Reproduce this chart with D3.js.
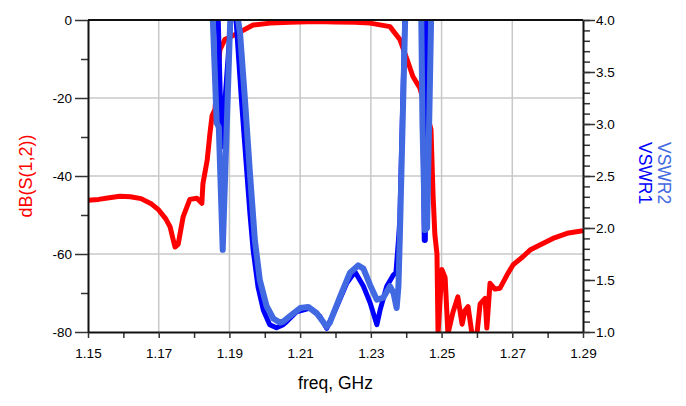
<!DOCTYPE html>
<html>
<head>
<meta charset="utf-8">
<script src="https://cdn.jsdelivr.net/npm/d3@7"></script>
<style>
  body { margin: 0; background: #fff; }
  svg { display: block; font-family: "Liberation Sans", Arial, sans-serif; }
</style>
</head>
<body>
<div id="chart"></div>
<script>
const width = 686;
const height = 406;

// dB(S(1,2)) trace
const s12Freq = [1.150, 1.153, 1.156, 1.159, 1.162, 1.165, 1.168, 1.170, 1.172, 1.1732, 1.1746, 1.1755,
  1.1769, 1.1788, 1.1808, 1.1822, 1.1825, 1.1837, 1.1845, 1.1851, 1.1859, 1.1865, 1.1873, 1.1887,
  1.1921, 1.1967, 1.2015, 1.2071, 1.2145, 1.2200, 1.2255, 1.2298, 1.2354, 1.2382, 1.2402, 1.2419,
  1.2439, 1.2470, 1.2476, 1.2481, 1.2487, 1.2490, 1.2501, 1.2510, 1.2518, 1.2532, 1.2546, 1.2558,
  1.2566, 1.2575, 1.2586, 1.2600, 1.2609, 1.2623, 1.2628, 1.2637, 1.2651, 1.2665, 1.2685, 1.2702,
  1.2730, 1.2750, 1.2778, 1.2815, 1.2855, 1.2900];
const s12Db = [-46.2, -46.0, -45.6, -45.2, -45.3, -45.8, -47.2, -48.7, -51.0, -53.0, -58.2, -57.5,
  -50.5, -46.0, -45.7, -47.0, -42.0, -36.0, -29.0, -24.5, -23.0, -16.0, -7.7, -5.0,
  -3.5, -1.3, -0.8, -0.6, -0.4, -0.5, -0.6, -0.8, -1.7, -5.0, -10.0, -14.5,
  -17.5, -28.0, -45.0, -55.0, -60.0, -80.5, -64.0, -66.0, -80.5, -75.0, -71.0, -78.0,
  -74.5, -73.5, -80.5, -80.5, -72.8, -71.4, -79.0, -67.5, -69.0, -68.8, -65.4, -62.8,
  -60.7, -59.0, -57.7, -56.0, -54.7, -54.0];

// VSWR1 (dark blue)
const vswr1Freq = [1.1860, 1.1866, 1.1878, 1.1906, 1.1912, 1.1920, 1.1934, 1.1948, 1.1958, 1.1967,
  1.1981, 1.1996, 1.2014, 1.2033, 1.2052, 1.2062, 1.2090, 1.2128, 1.2156, 1.2175, 1.2203, 1.2232,
  1.2255, 1.2279, 1.2298, 1.2317, 1.2326, 1.2345, 1.2364, 1.2371, 1.2378, 1.2382, 1.2396, 1.2404,
  1.2438, 1.2444, 1.2451, 1.2454, 1.2460, 1.2468];
const vswr1 = [5.0, 4.3, 2.78, 4.1, 4.3, 3.94, 3.23, 2.59, 2.14, 1.79,
  1.43, 1.21, 1.07, 1.04, 1.07, 1.10, 1.195, 1.23, 1.15, 1.035, 1.24, 1.47,
  1.58, 1.44, 1.28, 1.07, 1.21, 1.44, 1.55, 1.57, 1.88, 2.08, 4.0, 4.6,
  4.6, 4.3, 1.88, 1.88, 4.3, 5.0];

// VSWR2 (light blue)
const vswr2Freq = [1.1840, 1.1852, 1.1864, 1.1870, 1.1881, 1.1902, 1.1909, 1.1916, 1.1930, 1.1944,
  1.1958, 1.1972, 1.1986, 1.2005, 1.2024, 1.2043, 1.2052, 1.2081, 1.2100, 1.2123, 1.2147, 1.2175,
  1.2184, 1.2213, 1.2241, 1.2264, 1.2279, 1.2298, 1.2317, 1.2335, 1.2354, 1.2364, 1.2373, 1.2378,
  1.2382, 1.2397, 1.2405, 1.2438, 1.2442, 1.2446, 1.2453, 1.2459, 1.2466, 1.2472, 1.2480];
const vswr2 = [5.0, 4.1, 3.01, 2.97, 1.79, 3.97, 4.4, 4.2, 3.875, 3.23,
  2.53, 1.88, 1.50, 1.25, 1.13, 1.09, 1.10, 1.18, 1.23, 1.24, 1.18, 1.05,
  1.09, 1.34, 1.57, 1.64, 1.61, 1.45, 1.31, 1.33, 1.44, 1.375, 1.23, 1.44,
  1.92, 4.0, 4.6, 4.6, 4.2, 3.0, 1.98, 2.0, 3.2, 4.3, 5.0];

// ticks
const xTickValues = [1.15, 1.17, 1.19, 1.21, 1.23, 1.25, 1.27, 1.29];
const xMinorValues = [1.16, 1.18, 1.20, 1.22, 1.24, 1.26, 1.28];
const leftTickValues = [0, -20, -40, -60, -80];
const leftMinorValues = [-10, -30, -50, -70];
const rightTickValues = [1.0, 1.5, 2.0, 2.5, 3.0, 3.5, 4.0];
const rightMinorValues = d3.range(10, 41).map(d => d / 10);

const plot = { left: 88, top: 20, right: 583, bottom: 332 };

function createSVG(container) {
  return d3.select(container)
    .append('svg')
    .attr('width', width)
    .attr('height', height)
    .attr('viewBox', `0 0 ${width} ${height}`);
}

function drawChart(svg) {
  const x = d3.scaleLinear().domain([1.15, 1.29]).range([plot.left, plot.right]);
  const yDb = d3.scaleLinear().domain([-80, 0]).range([plot.bottom, plot.top]);
  const yVswr = d3.scaleLinear().domain([1, 4]).range([plot.bottom, plot.top]);

  svg.append('defs').append('clipPath').attr('id', 'plot-clip')
    .append('rect')
    .attr('x', plot.left).attr('y', plot.top)
    .attr('width', plot.right - plot.left).attr('height', plot.bottom - plot.top);

  // grid
  const grid = svg.append('g').attr('stroke', '#c8c8c8').attr('stroke-width', 1.5);
  grid.selectAll('line.vx')
    .data(xTickValues.slice(1, -1))
    .join('line')
    .attr('x1', d => x(d)).attr('x2', d => x(d))
    .attr('y1', plot.top).attr('y2', plot.bottom);
  grid.selectAll('line.hy')
    .data(leftTickValues.slice(1, -1))
    .join('line')
    .attr('x1', plot.left).attr('x2', plot.right)
    .attr('y1', d => yDb(d)).attr('y2', d => yDb(d));

  // traces
  const traces = svg.append('g').attr('clip-path', 'url(#plot-clip)')
    .attr('fill', 'none').attr('stroke-linejoin', 'round');

  const lineDb = d3.line().x(d => x(d[0])).y(d => yDb(d[1]));
  const lineVswr = d3.line().x(d => x(d[0])).y(d => yVswr(d[1]));

  traces.append('path')
    .datum(d3.zip(s12Freq, s12Db))
    .attr('stroke', '#ff0000').attr('stroke-width', 5)
    .attr('d', lineDb);
  traces.append('path')
    .datum(d3.zip(vswr1Freq, vswr1))
    .attr('stroke', '#0000ff').attr('stroke-width', 5)
    .attr('d', lineVswr);
  traces.append('path')
    .datum(d3.zip(vswr2Freq, vswr2))
    .attr('stroke', '#4169e1').attr('stroke-width', 6)
    .attr('d', lineVswr);

  // axes
  const styleAxis = g => {
    g.select('.domain').attr('stroke', '#111').attr('stroke-width', 2);
    g.selectAll('.tick line').attr('stroke', '#333').attr('stroke-width', 1.5);
    g.selectAll('.tick text').attr('fill', '#000').style('font-size', '13.5px')
      .style('font-family', '"Liberation Sans", Arial, sans-serif');
  };

  svg.append('g')
    .attr('transform', `translate(0,${plot.bottom})`)
    .call(d3.axisBottom(x).tickValues(xMinorValues).tickSize(6).tickFormat(''))
    .call(g => g.select('.domain').remove())
    .call(styleAxis);
  svg.append('g')
    .attr('transform', `translate(0,${plot.bottom})`)
    .call(d3.axisBottom(x).tickValues(xTickValues).tickSize(6).tickSizeOuter(0)
      .tickPadding(10).tickFormat(d => d.toFixed(2)))
    .call(styleAxis);

  svg.append('g')
    .attr('transform', `translate(${plot.left},0)`)
    .call(d3.axisLeft(yDb).tickValues(leftMinorValues).tickSize(7).tickFormat(''))
    .call(g => g.select('.domain').remove())
    .call(styleAxis);
  svg.append('g')
    .attr('transform', `translate(${plot.left},0)`)
    .call(d3.axisLeft(yDb).tickValues(leftTickValues).tickSize(13).tickSizeOuter(0)
      .tickPadding(3).tickFormat(d => String(d)))
    .call(styleAxis);

  svg.append('g')
    .attr('transform', `translate(${plot.right},0)`)
    .call(d3.axisRight(yVswr).tickValues(rightMinorValues).tickSize(7).tickFormat(''))
    .call(g => g.select('.domain').remove())
    .call(styleAxis);
  svg.append('g')
    .attr('transform', `translate(${plot.right},0)`)
    .call(d3.axisRight(yVswr).tickValues(rightTickValues).tickSize(12).tickSizeOuter(0)
      .tickPadding(1).tickFormat(d => d.toFixed(1)))
    .call(styleAxis);

  // top frame line
  svg.append('line')
    .attr('x1', plot.left).attr('x2', plot.right)
    .attr('y1', plot.top).attr('y2', plot.top)
    .attr('stroke', '#111').attr('stroke-width', 2);

  // axis titles
  svg.append('text')
    .attr('x', (plot.left + plot.right) / 2).attr('y', 389)
    .attr('text-anchor', 'middle').style('font-size', '17.5px')
    .text('freq, GHz');

  svg.append('text')
    .attr('transform', 'translate(32,176) rotate(-90)')
    .attr('text-anchor', 'middle').style('font-size', '18px')
    .attr('fill', '#ff0000')
    .text('dB(S(1,2))');

  svg.append('text')
    .attr('transform', 'translate(658,142) rotate(90)')
    .style('font-size', '17.5px').attr('fill', '#4169e1')
    .text('VSWR2');
  svg.append('text')
    .attr('transform', 'translate(639,142) rotate(90)')
    .style('font-size', '17.5px').attr('fill', '#0000ff')
    .text('VSWR1');
}

document.addEventListener('DOMContentLoaded', function() {
  try {
    const svg = createSVG('#chart');
    drawChart(svg);
  } catch (error) {
    console.error('Error drawing chart:', error);
  }
});
</script>
</body>
</html>
